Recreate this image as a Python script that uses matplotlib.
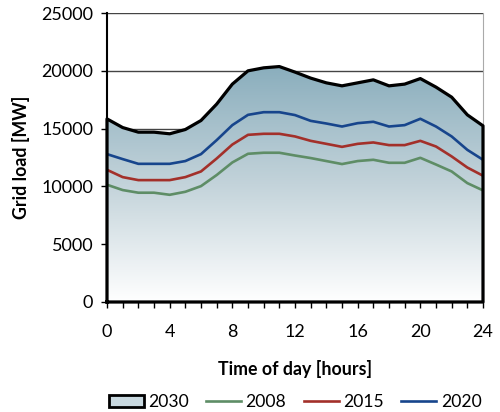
import numpy as np
import matplotlib
matplotlib.use("Agg")
from matplotlib import pyplot as plt
from matplotlib.patches import Patch
from matplotlib.lines import Line2D
from matplotlib.colors import LinearSegmentedColormap

plt.rcParams['font.family'] = ['Lato', 'DejaVu Sans']

hours = list(range(25))
load_2030 = [15850, 15100, 14700, 14700, 14560, 14930, 15710, 17130, 18860, 20010,
             20270, 20380, 19900, 19380, 18970, 18710, 18970, 19230, 18710, 18860,
             19340, 18600, 17730, 16200, 15250]
load_2020 = [12800, 12370, 11960, 11960, 11960, 12200, 12800, 14010, 15310, 16200,
             16430, 16430, 16180, 15680, 15450, 15190, 15480, 15600, 15190, 15310,
             15860, 15190, 14330, 13170, 12310]
load_2015 = [11440, 10810, 10550, 10550, 10550, 10810, 11300, 12420, 13630, 14470,
             14560, 14560, 14330, 13950, 13690, 13430, 13690, 13810, 13580, 13580,
             13950, 13460, 12600, 11640, 10930]
load_2008 = [10150, 9690, 9460, 9460, 9280, 9540, 10030, 10990, 12080, 12830,
             12920, 12920, 12680, 12460, 12200, 11940, 12200, 12310, 12050, 12050,
             12480, 11900, 11300, 10290, 9660]

c2008 = '#5e8d66'
c2015 = '#a3302a'
c2020 = '#17458c'

fig = plt.figure(figsize=(5, 4.12), dpi=100)
ax = fig.add_axes([0.214, 0.267, 0.752, 0.701])

ax.set_xlim(0, 24)
ax.set_ylim(0, 25000)

# horizontal gridlines behind the area
for v in [5000, 10000, 15000, 20000, 25000]:
    ax.axhline(v, color='#444444', lw=1.0, zorder=0)

# gradient-filled area for 2030
area = ax.fill_between(hours, load_2030, 0, facecolor='none', edgecolor='none', zorder=1)
cmap = LinearSegmentedColormap.from_list('g', ['#ffffff', '#c3d3da', '#8aaebd'])
grad = np.linspace(0, 1, 256).reshape(-1, 1)
img = ax.imshow(grad, cmap=cmap, origin='lower', aspect='auto',
                extent=[0, 24, 0, max(load_2030)], zorder=1)
img.set_clip_path(area.get_paths()[0], transform=ax.transData)
outline_x = [0] + hours + [24, 0]
outline_y = [0] + load_2030 + [0, 0]
ax.plot(outline_x, outline_y, color='black', lw=2.3, zorder=3, clip_on=False,
        solid_joinstyle='round')

ax.plot(hours, load_2008, color=c2008, lw=1.9, zorder=2)
ax.plot(hours, load_2015, color=c2015, lw=1.9, zorder=2)
ax.plot(hours, load_2020, color=c2020, lw=1.9, zorder=2)

ax.set_xticks(range(0, 25, 4))
ax.set_xticks(range(25), minor=True)
ax.set_yticks(range(0, 25001, 5000))
ax.tick_params(axis='both', which='both', direction='out', length=4, width=1,
               labelsize=13, color='black')
ax.tick_params(axis='x', pad=12)
ax.tick_params(axis='y', pad=6)

ax.spines['top'].set_visible(False)
ax.spines['right'].set_color('#aaaaaa')
ax.spines['left'].set_linewidth(1.5)
ax.spines['bottom'].set_linewidth(1.5)

ax.set_xlabel('Time of day [hours]', fontsize=12.8, fontweight='bold', labelpad=14)
ax.set_ylabel('Grid load [MW]', fontsize=12.8, fontweight='bold', labelpad=8)

handles = [
    Patch(facecolor='#c8d8df', edgecolor='black', linewidth=2, label='2030'),
    Line2D([0], [0], color=c2008, lw=1.9, label='2008'),
    Line2D([0], [0], color=c2015, lw=1.9, label='2015'),
    Line2D([0], [0], color=c2020, lw=1.9, label='2020'),
]
fig.legend(handles=handles, loc='center', bbox_to_anchor=(0.59, 0.024), ncol=4,
           frameon=False, fontsize=12.6, handlelength=2.0, handletextpad=0.25,
           columnspacing=1.0)

fig.savefig('out.png', dpi=100)
